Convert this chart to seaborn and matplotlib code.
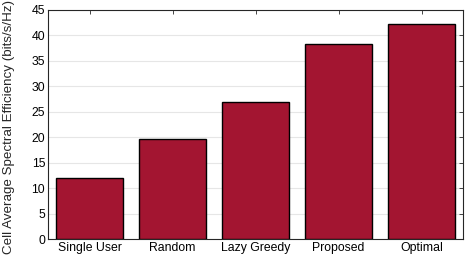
import matplotlib
matplotlib.use("Agg")
import matplotlib.pyplot as plt
import seaborn as sns
import pandas as pd

categories = ["Single User", "Random", "Lazy Greedy", "Proposed", "Optimal"]
values = [11.9, 19.7, 26.9, 38.3, 42.2]
yticks = [0, 5, 10, 15, 20, 25, 30, 35, 40, 45]

sns.set_style("white")
plt.rcParams['font.family'] = ['Liberation Sans', 'DejaVu Sans']

df = pd.DataFrame({"cat": categories, "val": values})
fig = plt.figure(figsize=(4.66, 2.58), dpi=100)
ax = fig.add_axes([48/466, 19/258, 415/466, 229/258])
sns.barplot(data=df, x="cat", y="val", color="#A31531", saturation=1,
            edgecolor="black", linewidth=1.0, width=0.8, ax=ax, zorder=3)
ax.set_xlim(-0.5, 4.5)
ax.set_ylim(0, 45)
ax.set_yticks(yticks)
ax.yaxis.grid(True, color="#e6e6e6", linewidth=0.8, zorder=0)
ax.set_axisbelow(True)
ax.set_xlabel("")
ax.set_ylabel("Cell Average Spectral Efficiency (bits/s/Hz)", fontsize=9.6, labelpad=2)
ax.yaxis.set_label_coords(-0.08, 0.49)
ax.tick_params(axis="both", direction="in", labelsize=8.8, length=3, width=0.6,
               top=True, right=True, colors="#262626", labelcolor="black", pad=2)
for s in ax.spines.values():
    s.set_visible(True)
    s.set_color("#262626")
    s.set_linewidth(0.8)
fig.savefig("out.png", dpi=100)
